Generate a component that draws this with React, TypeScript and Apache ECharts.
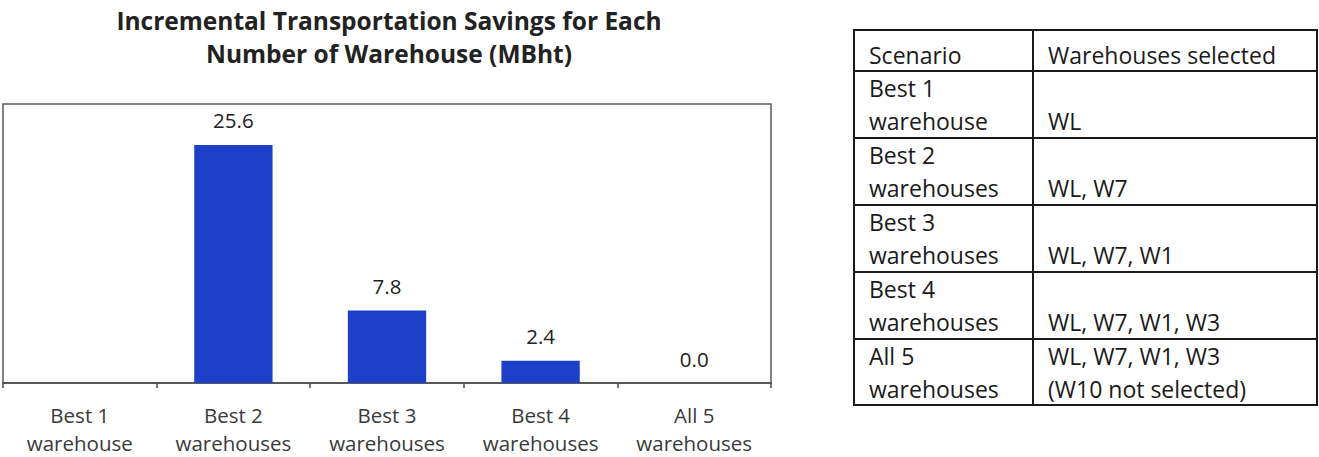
import React, { useEffect, useRef } from "react";
import * as echarts from "echarts";

// ---- Data ----
const titleLines = ["Incremental Transportation Savings for Each", "Number of Warehouse (MBht)"];
const categories = [
  "Best 1\nwarehouse",
  "Best 2\nwarehouses",
  "Best 3\nwarehouses",
  "Best 4\nwarehouses",
  "All 5\nwarehouses",
];
// Best 1 has no incremental value (baseline)
const savings: (number | string)[] = ["-", 25.6, 7.8, 2.4, 0.0];
const yMin = 0;
const yMax = 30;

const tableHeader = ["Scenario", "Warehouses selected"];
const scenarioCol = [
  ["Best 1", "warehouse"],
  ["Best 2", "warehouses"],
  ["Best 3", "warehouses"],
  ["Best 4", "warehouses"],
  ["All 5", "warehouses"],
];
const selectedCol = [
  ["", "WL"],
  ["", "WL, W7"],
  ["", "WL, W7, W1"],
  ["", "WL, W7, W1, W3"],
  ["WL, W7, W1, W3", "(W10 not selected)"],
];

// ---- Layout ----
const FONT = '"Open Sans", "Liberation Sans", sans-serif';
const TABLE_X = [854, 1033, 1317];
const TABLE_Y = [30, 71, 138, 205, 272, 339, 405];
const LINE_COLOR = "#1a1a1a";
const TEXT_COLOR = "#1a1a1a";

function buildGraphic() {
  const els: any[] = [];
  // title
  titleLines.forEach((t, i) => {
    els.push({
      type: "text",
      x: 389,
      y: i === 0 ? 20 : 53,
      style: {
        text: t,
        fontFamily: FONT,
        fontSize: 24.5,
        fontWeight: "bold",
        fill: "#222",
        align: "center",
        verticalAlign: "middle",
      },
    });
  });
  // table lines
  TABLE_Y.forEach((y) => {
    els.push({
      type: "line",
      shape: { x1: TABLE_X[0] - 1, y1: y, x2: TABLE_X[2] + 1, y2: y },
      style: { stroke: LINE_COLOR, lineWidth: 2 },
    });
  });
  TABLE_X.forEach((x) => {
    els.push({
      type: "line",
      shape: { x1: x, y1: TABLE_Y[0], x2: x, y2: TABLE_Y[TABLE_Y.length - 1] },
      style: { stroke: LINE_COLOR, lineWidth: 2 },
    });
  });
  const txt = (text: string, x: number, y: number) => ({
    type: "text",
    x,
    y,
    style: {
      text,
      fontFamily: FONT,
      fontSize: 23,
      fill: TEXT_COLOR,
      align: "left",
      verticalAlign: "middle",
    },
  });
  els.push(txt(tableHeader[0], 869, 55));
  els.push(txt(tableHeader[1], 1048, 55));
  scenarioCol.forEach((lines, r) => {
    const top = TABLE_Y[r + 1];
    lines.forEach((l, k) => {
      if (l) els.push(txt(l, 869, top + (k === 0 ? 17 : 50)));
    });
    selectedCol[r].forEach((l, k) => {
      if (l) els.push(txt(l, 1048, top + (k === 0 ? 17 : 50)));
    });
  });
  return els;
}

export default function App() {
  const ref = useRef<HTMLDivElement>(null);
  useEffect(() => {
    if (!ref.current) return;
    const chart = echarts.init(ref.current, null, { renderer: "svg" });
    chart.setOption({
      animation: false,
      backgroundColor: "#ffffff",
      grid: {
        left: 3,
        right: 548,
        top: 104,
        bottom: 72,
        show: true,
        borderColor: "#5a5a5a",
        borderWidth: 1.5,
        containLabel: false,
      },
      xAxis: {
        type: "category",
        data: categories,
        axisLine: { lineStyle: { color: "#4a4a4a", width: 1.5 } },
        axisTick: { show: true, length: 5, lineStyle: { color: "#4a4a4a", width: 1.5 } },
        axisLabel: {
          interval: 0,
          fontFamily: FONT,
          fontSize: 20.5,
          lineHeight: 28,
          color: "#3a3a3a",
          margin: 18,
        },
      },
      yAxis: {
        type: "value",
        min: yMin,
        max: yMax,
        show: false,
        splitLine: { show: false },
      },
      series: [
        {
          type: "bar",
          data: savings,
          barWidth: "51%",
          itemStyle: { color: "#1e40c9" },
          label: {
            show: true,
            position: "top",
            distance: 14,
            fontFamily: FONT,
            fontSize: 20.5,
            color: "#222",
            formatter: (p: any) => Number(p.value).toFixed(1),
          },
        },
      ],
      graphic: buildGraphic(),
    });
    return () => chart.dispose();
  }, []);
  return (
    <div
      ref={ref}
      style={{ position: "absolute", left: 0, top: 0, width: 1319, height: 457 }}
    />
  );
}
